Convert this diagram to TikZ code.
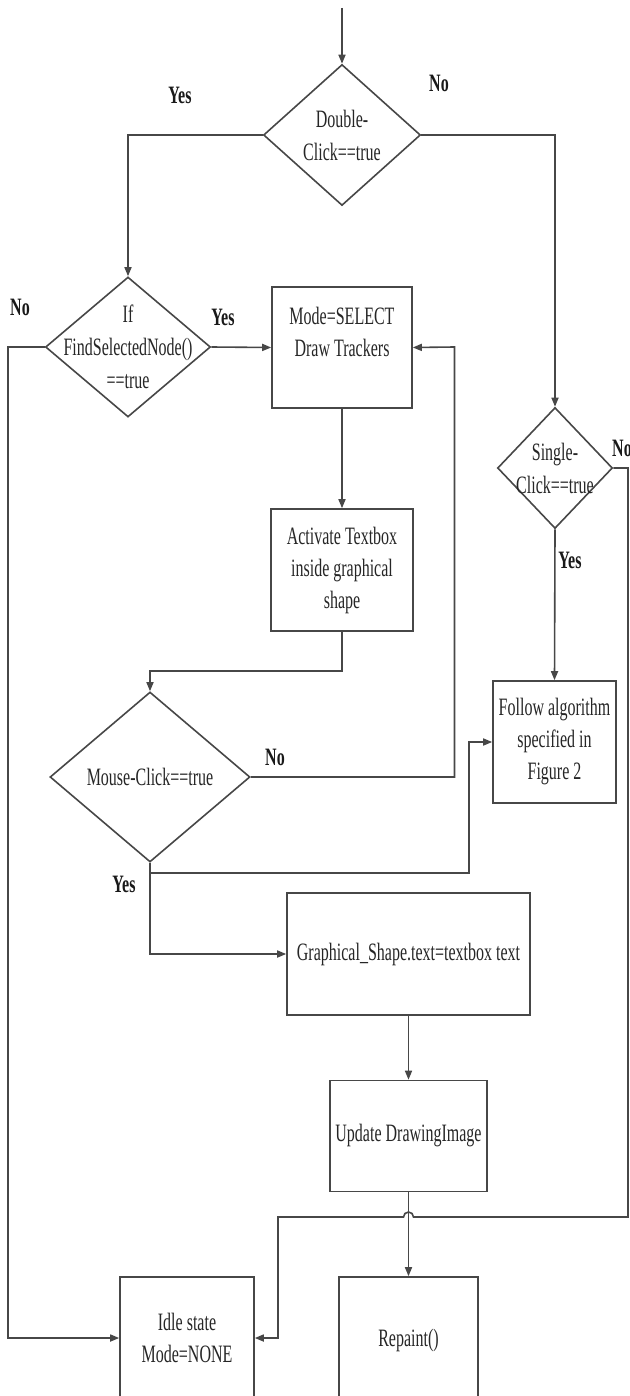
\documentclass[tikz,border=0pt]{standalone}
\usepackage{fontspec}
\setmainfont{Liberation Serif}[FakeStretch=0.64]
\usetikzlibrary{shapes.geometric, arrows.meta, calc}
\tikzstyle{flow}=[line width=1.6pt, draw=black!72, -{Triangle[length=9pt,width=7pt]}]
\tikzstyle{wire}=[line width=1.6pt, draw=black!72]
\tikzstyle{procbox}=[draw=black!72, line width=1.6pt, rectangle, align=center, inner sep=0pt, font=\fontsize{25}{32}\selectfont, text=black!85]
\tikzstyle{decision}=[draw=black!72, line width=1.6pt, diamond, inner sep=0pt]
\tikzstyle{decitext}=[align=center, inner sep=0pt, font=\fontsize{25}{33}\selectfont, text=black!85]
\tikzstyle{answer}=[inner sep=0pt, font=\fontsize{25}{30}\selectfont\bfseries, text=black!90]

\begin{document}
\begin{tikzpicture}[x=1pt, y=-1pt]
				\useasboundingbox (0,0) rectangle (629,1396);

				\coordinate (start) at (342,8);
				\coordinate (k1) at (150,671);
				\coordinate (j1) at (150,873);
				\coordinate (railL) at (8,1338);
				\coordinate (railM) at (454.5,347);
				\coordinate (railF) at (469,742);
				\coordinate (railR) at (628,1217);
				\coordinate (railI) at (278,1217);
				\coordinate (hop) at (408.5,1217);

				\node[decision, minimum width=157pt, minimum height=141pt] (dbl) at (342,135) {};
				\node[decitext] (dblt) at (dbl.center) {Double-\\Click==true};
				\node[decision, minimum width=165pt, minimum height=140pt] (find) at (128,347) {};
				\node[decitext] (findt) at (find.center) {If\\FindSelectedNode()\\==true};
				\node[decision, minimum width=200pt, minimum height=170pt] (mouse) at (150,777) {};
				\node[decitext] (mouset) at (mouse.center) {Mouse-Click==true};
				\node[decision, minimum width=115pt, minimum height=121pt] (sgl) at (555,468) {};
				\node[decitext] (sglt) at (sgl.center) {Single-\\Click==true};

				\node[procbox, minimum width=140pt, minimum height=121pt] (sel) at (342,347.5) {Mode=SELECT\\Draw Trackers\\~};
				\node[procbox, minimum width=142pt, minimum height=122pt] (act) at (342,570) {Activate Textbox\\inside graphical\\shape};
				\node[procbox, minimum width=123pt, minimum height=122pt] (follow) at (554.5,742) {Follow algorithm\\specified in\\Figure 2};
				\node[procbox, minimum width=243pt, minimum height=122pt] (graph) at (408.5,954) {Graphical\_Shape.text=textbox text};
				\node[procbox, minimum width=157pt, minimum height=111pt] (upd) at (408.5,1136) {Update DrawingImage};
				\node[procbox, minimum width=134pt, minimum height=154pt] (idle) at (187,1354) {Idle state\\Mode=NONE\\~};
				\node[procbox, minimum width=139pt, minimum height=154pt] (rep) at (408.5,1354) {Repaint()\\~};

				\node[answer] (yes1) at (180,95) {Yes};
				\node[answer] (no1) at (439,83) {No};
				\node[answer] (no2) at (20,307) {No};
				\node[answer] (yes2) at (223,317) {Yes};
				\node[answer] (no3) at (275,757) {No};
				\node[answer] (no4) at (622,448) {No};
				\node[answer] (yes3) at (570,560) {Yes};
				\node[answer] (yes4) at (124,884) {Yes};

				\draw[flow] (start) -- (dbl.north);
				\draw[flow] (dbl.west) -| (find.north);
				\draw[flow] (dbl.east) -| (sgl.north);
				\draw[flow] (find.east) -- (sel.west);
				\draw[flow] (find.west) -| (railL) -- (railL -| idle.west);
				\draw[flow] (sel.south) -- (act.north);
				\draw[flow] (act.south) |- (k1) -- (mouse.north);
				\draw[flow] (mouse.east) -| (railM) -- (sel.east);
				\draw[wire] (mouse.south) -- (j1);
				\draw[flow] (j1) -| (railF) -- (follow.west);
				\draw[flow] (j1) |- (graph.west);
				\draw[flow] (sgl.south) -- (follow.north);
				\draw[flow] (graph.south) -- (upd.north);
				\draw[flow] (upd.south) -- (rep.north);
				\draw[flow] (sgl.east) -| (railR) -- ($(hop)+(5,0)$) arc[start angle=0, end angle=180, radius=5pt] -- (railI) |- (railL -| idle.east);
			\end{tikzpicture}
\end{document}
